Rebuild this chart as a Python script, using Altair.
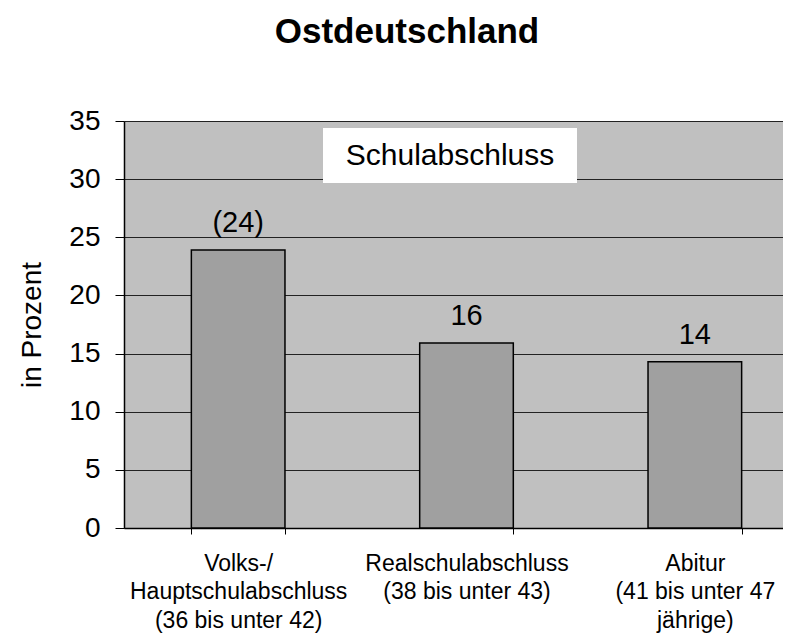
import altair as alt
import pandas as pd

FONT = "Liberation Sans"

# data
categories = [
    "Volks-/|Hauptschulabschluss|(36 bis unter 42)",
    "Realschulabschluss|(38 bis unter 43)",
    "Abitur|(41 bis unter 47|jährige)",
]
values = [23.9, 15.9, 14.3]
value_labels = ["(24)", "16", "14"]
y_ticks = [0, 5, 10, 15, 20, 25, 30, 35]
annotation = ["Schulabschluss"]
chart_title = ["Ostdeutschland"]

df = pd.DataFrame({"kategorie": categories, "wert": values, "etikett": value_labels})
anno_df = pd.DataFrame({"titel": annotation})
title_df = pd.DataFrame({"titel": chart_title})

x_enc = alt.X(
    "kategorie:N",
    sort=categories,
    title=None,
    scale=alt.Scale(range=[0, 685], paddingInner=0.59, paddingOuter=0.295),
    axis=alt.Axis(
        labelAngle=0,
        labelExpr="split(datum.label, '|')",
        labelFont=FONT,
        labelFontSize=23,
        labelLineHeight=28.5,
        labelLimit=0,
        labelOverlap=False,
        labelBound=False,
        labelFlush=False,
        labelPadding=18,
        labelColor="black",
        tickBand="extent",
        tickSize=6,
        tickColor="black",
        domainColor="black",
        domainWidth=1.5,
        grid=False,
    ),
)

y_enc = alt.Y(
    "wert:Q",
    scale=alt.Scale(domain=[0, 35], nice=False),
    axis=alt.Axis(
        values=y_ticks,
        title="in Prozent",
        titleFont=FONT,
        titleFontSize=28,
        titleFontWeight="normal",
        titleColor="black",
        titleAngle=270,
        titleX=-84,
        titleY=203.5,
        titleAlign="center",
        titleBaseline="alphabetic",
        labelFont=FONT,
        labelFontSize=28,
        labelPadding=15,
        labelColor="black",
        tickSize=9,
        tickColor="black",
        domainColor="black",
        domainWidth=1.5,
        gridColor="#222222",
        gridWidth=1,
    ),
)

bars = alt.Chart(df).mark_bar(color="#A0A0A0", stroke="black", strokeWidth=1.5).encode(
    x=x_enc, y=y_enc
)

labels = alt.Chart(df).mark_text(
    font=FONT, fontSize=29, baseline="alphabetic", dy=-18, color="black"
).encode(x=alt.X("kategorie:N", sort=categories), y="wert:Q", text="etikett:N")

box = alt.Chart(anno_df).mark_rect(fill="white").encode(
    x=alt.value(199), x2=alt.value(453), y=alt.value(7), y2=alt.value(62)
)
box_text = alt.Chart(anno_df).mark_text(
    font=FONT, fontSize=30, baseline="middle", align="center", color="black"
).encode(x=alt.value(326), y=alt.value(35), text="titel:N")

title_text = alt.Chart(title_df).mark_text(
    font=FONT, fontSize=35, fontWeight="bold", baseline="alphabetic", align="center", color="black"
).encode(x=alt.value(283), y=alt.value(-78), text="titel:N")

chart = (
    alt.layer(bars, box, box_text, labels, title_text)
    .properties(
        width=659,
        height=407,
        autosize=alt.AutoSizeParams(type="none"),
        padding={"left": 116, "top": 113, "right": 0, "bottom": 106},
    )
    .configure(
        background="white",
        view=alt.ViewConfig(fill="#C0C0C0", strokeWidth=0),
    )
)

chart.save("out.html", embed_options={"renderer": "svg", "actions": False})
